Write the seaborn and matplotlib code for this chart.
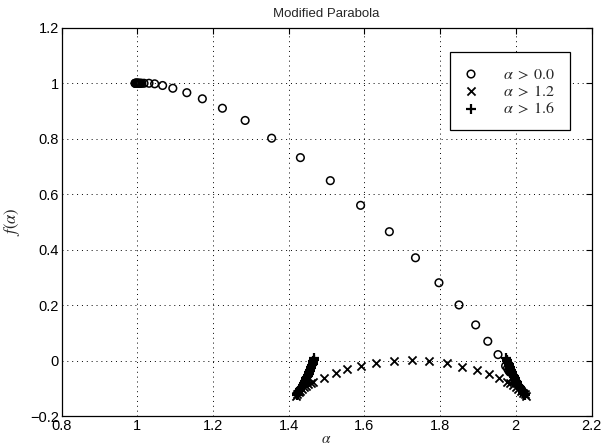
import seaborn as sns
import matplotlib.pyplot as plt
import numpy as np

# values (alpha, f(alpha))
circ_x = [0.994, 0.995, 0.996, 0.997, 0.998, 0.999, 1.000, 1.001, 1.002, 1.003,
          1.005, 1.007, 1.009, 1.012, 1.018, 1.031, 1.046, 1.067, 1.094, 1.131,
          1.172, 1.225, 1.285, 1.355, 1.431, 1.510, 1.590, 1.666, 1.735, 1.797,
          1.850, 1.894, 1.926, 1.953, 1.973, 1.978, 1.981, 1.984]
circ_y = [1.0, 1.0, 1.0, 1.0, 1.0, 1.0, 1.0, 1.0, 1.0, 1.0,
          1.0, 1.0, 1.0, 1.0, 1.0, 1.0, 0.998, 0.992, 0.982, 0.966,
          0.944, 0.910, 0.866, 0.802, 0.732, 0.649, 0.560, 0.465, 0.371, 0.281,
          0.201, 0.129, 0.070, 0.022, -0.019, -0.028, -0.035, -0.041]

cross_x = [1.420, 1.423, 1.426, 1.430, 1.435, 1.440, 1.446, 1.452, 1.458, 1.465,
           1.493, 1.524, 1.555, 1.592, 1.632, 1.678, 1.725, 1.771, 1.817, 1.859,
           1.897, 1.929, 1.956, 1.978, 1.986, 1.993, 2.000, 2.007, 2.013, 2.018,
           2.023, 2.027]
cross_y = [-0.126, -0.120, -0.114, -0.108, -0.102, -0.096, -0.090, -0.085, -0.081, -0.078,
           -0.061, -0.045, -0.031, -0.019, -0.007, -0.001, 0.001, -0.001, -0.007, -0.022,
           -0.034, -0.048, -0.061, -0.076, -0.082, -0.089, -0.096, -0.103, -0.109, -0.115,
           -0.121, -0.126]

plus_x = [1.467, 1.466, 1.465, 1.464, 1.463, 1.462, 1.460, 1.459, 1.457, 1.456,
          1.454, 1.453, 1.451, 1.450, 1.448, 1.447, 1.445, 1.444, 1.442, 1.440,
          1.438, 1.437, 1.435, 1.433, 1.431, 1.429, 1.427, 1.425, 1.423, 1.421,
          1.975, 1.976, 1.978, 1.979, 1.981, 1.982, 1.984, 1.985, 1.987, 1.988,
          1.990, 1.991, 1.993, 1.994, 1.996, 1.997, 1.999, 2.000, 2.002, 2.004,
          2.006, 2.008, 2.010, 2.012, 2.014, 2.016, 2.018, 2.020, 2.022, 2.024]
plus_y = [0.008, 0.003, -0.002, -0.007, -0.012, -0.017, -0.022, -0.027, -0.032, -0.037,
          -0.042, -0.047, -0.052, -0.056, -0.060, -0.064, -0.068, -0.072, -0.077, -0.082,
          -0.086, -0.090, -0.095, -0.099, -0.103, -0.107, -0.111, -0.115, -0.119, -0.123,
          0.008, 0.003, -0.002, -0.007, -0.012, -0.017, -0.022, -0.027, -0.032, -0.037,
          -0.042, -0.047, -0.052, -0.056, -0.060, -0.064, -0.068, -0.072, -0.077, -0.082,
          -0.086, -0.090, -0.095, -0.099, -0.103, -0.107, -0.111, -0.115, -0.119, -0.123]

labels = [r'$\alpha\;>\;0.0$', r'$\alpha\;>\;1.2$', r'$\alpha\;>\;1.6$']

sns.set_style('white')
plt.rcParams['font.family'] = ['Liberation Sans', 'DejaVu Sans']
plt.rcParams['mathtext.fontset'] = 'stix'

fig = plt.figure(figsize=(6.05, 4.48), dpi=100)
ax = fig.add_axes([0.1017, 0.071, 0.876, 0.867])

sns.scatterplot(x=circ_x, y=circ_y, marker='o', s=30, facecolors='none',
                edgecolors='k', linewidth=1.1, label=labels[0], ax=ax)
sns.scatterplot(x=cross_x, y=cross_y, marker='x', s=34, color='k',
                linewidth=1.3, label=labels[1], ax=ax)
sns.scatterplot(x=plus_x, y=plus_y, marker='+', s=55, color='k',
                linewidth=1.6, label=labels[2], ax=ax)

ax.set_xlim(0.8, 2.2)
ax.set_ylim(-0.2, 1.2)
ax.set_xticks(np.arange(0.8, 2.21, 0.2))
ax.set_yticks(np.arange(-0.2, 1.21, 0.2))
ax.set_xticklabels(['0.8', '1', '1.2', '1.4', '1.6', '1.8', '2', '2.2'])
ax.set_yticklabels(['\u22120.2', '0', '0.2', '0.4', '0.6', '0.8', '1', '1.2'])
ax.tick_params(direction='in', top=True, right=True, length=4, width=0.8,
               labelsize=10.5, pad=2, colors='k')
ax.grid(True, color='k', linestyle=(0, (1, 4)), linewidth=0.7)
for sp in ax.spines.values():
    sp.set_visible(True)
    sp.set_color('k')
    sp.set_linewidth(0.9)

ax.set_title('Modified Parabola', fontsize=9.5, pad=8)
ax.set_xlabel(r'$\alpha$', fontsize=11, labelpad=-1)
ax.set_ylabel(r'$f(\alpha)$', fontsize=12, labelpad=6)

leg = ax.legend(loc='upper right', bbox_to_anchor=(0.959, 0.938), borderaxespad=0,
                frameon=True, fancybox=False, edgecolor='k', framealpha=1,
                borderpad=0.9, handlelength=0.8, handletextpad=1.6,
                labelspacing=0.15, prop={'size': 11.5})
leg.get_frame().set_linewidth(0.9)

fig.savefig('out.png', dpi=100)
